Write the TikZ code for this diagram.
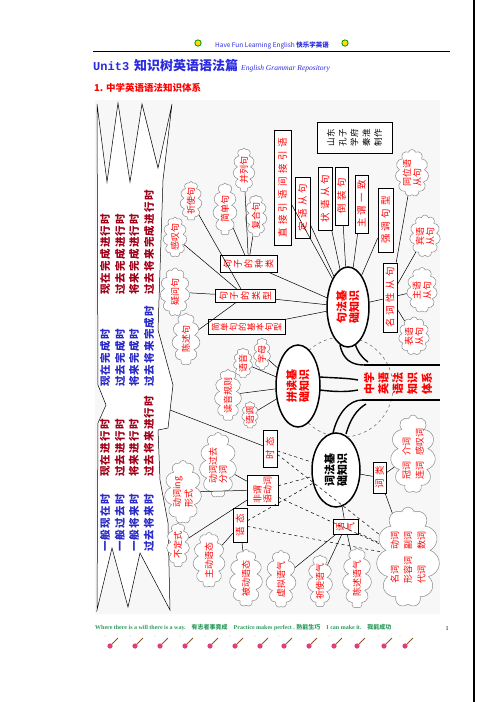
\documentclass[tikz,border=0pt]{standalone}
\usepackage{fontspec}
\usepackage{graphicx}
\setmainfont{Liberation Serif}
\newfontfamily\cjk{Noto Sans CJK SC}
\newfontfamily\cjksp{Noto Sans CJK SC}[LetterSpace=35]
\newfontfamily\cjkt{Noto Sans CJK SC}[LetterSpace=12]
\newfontfamily\monob{Liberation Mono}
\usetikzlibrary{shapes.geometric,shapes.symbols,calc}
\definecolor{ink}   {HTML}{000000}
\definecolor{hot}   {HTML}{FF0000}
\definecolor{maroon}{HTML}{A00018}
\definecolor{tblue} {HTML}{2A2AC8}
\definecolor{hblue} {HTML}{2A2AE0}
\definecolor{leaf}  {HTML}{2E9B5E}
\definecolor{puff}  {HTML}{8A8A8A}
\definecolor{pinkg} {HTML}{E0407A}
% text turned a quarter left, as the scanned page shows it
\newcommand{\rotx}[1]{\rotatebox{90}{#1}}
% each character turned on its own, set in a row
\newdimen\chgap \chgap=1.5pt
\newcommand{\chs}[1]{\chsA#1\relax}
\def\chsA#1{\ifx#1\relax\else\rotatebox{90}{#1}\hspace{\chgap}\expandafter\chsA\fi}
\tikzset{
  every node/.style={font=\cjk},
  % --- nodes
  box/.style  = {draw=ink, fill=white, line width=0.6pt, inner sep=1pt, text=hot,
                 font=\cjksp\fontsize{9.5}{11}\selectfont},
  stk/.style  = {box, font=\cjk\fontsize{9}{11}\selectfont},
  cl/.style   = {cloud, cloud puffs=11, cloud ignores aspect, draw=puff, fill=white,
                 line width=0.5pt, inner sep=0pt, text=hot,
                 font=\cjk\fontsize{9}{11}\selectfont},
  hub/.style  = {ellipse, draw=ink, line width=1.5pt, fill=white, inner sep=0pt, text=hot,
                 font=\cjk\bfseries\fontsize{11}{13}\selectfont},
  tense/.style= {anchor=south, inner sep=0pt,
                 font=\cjkt\bfseries\fontsize{10.5}{12}\selectfont},
  % --- edges
  e/.style    = {draw=ink, line width=0.5pt},
  ed/.style   = {e, dashed},
  trunk/.style= {draw=ink, line width=1.4pt},
}
\begin{document}
\begin{tikzpicture}[x=1pt,y=-1pt]
  \useasboundingbox (0,0) rectangle (496,702);
  \fill[white] (0,0) rectangle (496,702);
  \draw[line width=2pt] (474,0) -- (474,702);

  % header
  \node[text=hblue, font=\cjk\fontsize{6.5}{7}\selectfont] (hd) at (272,45)
    {Have Fun Learning English \textbf{快乐学英语}};
  \foreach \x in {198,345} {
    \fill[green!60!black] (\x,43) circle (3.6);
    \fill[yellow!80!orange] (\x,43) circle (2.6);
  }
  \draw[line width=0.6pt] (93,51) -- (450,51);
  \node[anchor=west, inner sep=0pt, text=hblue] (ttl) at (93,66)
    {{\monob\bfseries\fontsize{12}{14}\selectfont Unit3}\hspace{5pt}{\cjk\bfseries\fontsize{13}{15}\selectfont 知识树英语语法篇}\hspace{3pt}{\rmfamily\itshape\fontsize{7.5}{8}\selectfont English Grammar Repository}};
  \node[anchor=west, inner sep=0pt, text=hot, font=\cjk\bfseries\fontsize{9.5}{11}\selectfont] (sub) at (94,88)
    {1. 中学英语语法知识体系};

  % diagram area
  \fill[black!3] (95,100) rectangle (440,614);

  % left tense banner
  \draw[e, fill=white] (97,104) -- (107,182) -- (118,103) -- (130,182) -- (142,104)
    -- (158,168) -- (172,104) -- (163,180) -- (158,330) -- (173,385) -- (168,428)
    -- (158,430) -- (160,480) -- (168,523) -- (170,610) -- (140,553) -- (128,607)
    -- (112,548) -- (97,610) -- (98,423) -- (106,405) -- (98,385) -- cycle;
  \coordinate (ls) at (170,410);
  \node[tense, text=maroon] (t1) at (105,295) {\rotx{现在完成进行时}};
  \node[tense, text=maroon] (t2) at (120,295) {\rotx{过去完成进行时}};
  \node[tense, text=maroon] (t3) at (134,295) {\rotx{将来完成进行时}};
  \node[tense, text=maroon] (t4) at (149,295) {\rotx{过去将来完成进行时}};
  \node[tense, text=tblue]  (t5) at (105,387) {\rotx{现在完成时}};
  \node[tense, text=tblue]  (t6) at (120,387) {\rotx{过去完成时}};
  \node[tense, text=tblue]  (t7) at (134,387) {\rotx{将来完成时}};
  \node[tense, text=tblue]  (t8) at (149,387) {\rotx{过去将来完成时}};
  \node[tense, text=maroon] (t9) at (105,477) {\rotx{现在进行时}};
  \node[tense, text=maroon] (t10) at (120,477) {\rotx{过去进行时}};
  \node[tense, text=maroon] (t11) at (134,477) {\rotx{将来进行时}};
  \node[tense, text=maroon] (t12) at (149,477) {\rotx{过去将来进行时}};
  \node[tense, text=tblue]  (t13) at (105,552) {\rotx{一般现在时}};
  \node[tense, text=tblue]  (t14) at (120,552) {\rotx{一般过去时}};
  \node[tense, text=tblue]  (t15) at (134,552) {\rotx{一般将来时}};
  \node[tense, text=tblue]  (t16) at (149,552) {\rotx{过去将来时}};

  % dashed ring and trunk
  \draw[ed, draw=black!60] (343,387) circle (50);
  \draw[trunk] (364,365) -- (440,365);
  \draw[trunk] (362,400) -- (440,400);
  \draw[trunk] (340,345) .. controls (343,360) and (352,365) .. (364,365);
  \draw[trunk] (355,344) .. controls (358,352) and (362,358) .. (368,362);
  \draw[trunk] (320,377) .. controls (335,378) and (348,378) .. (358,380);
  \draw[trunk] (320,390) .. controls (335,392) and (348,392) .. (358,390);
  \draw[trunk] (333,433) .. controls (338,412) and (350,400) .. (362,400);
  \draw[trunk] (346,434) .. controls (350,420) and (356,410) .. (366,404);
  \node[text=hot, inner sep=0pt, font=\cjk\bfseries\fontsize{11}{13}\selectfont] (root) at (398,383)
    {\rotx{中学}\hspace{4pt}\rotx{英语}\hspace{4pt}\rotx{语法}\hspace{4pt}\rotx{知识}\hspace{4pt}\rotx{体系}};

  % hubs
  \node[hub, minimum width=42, minimum height=80] (jf) at (348,307) {\rotx{句法基}\hspace{2pt}\rotx{础知识}};
  \node[hub, minimum width=44, minimum height=82] (pd) at (298,386) {\rotx{拼读基}\hspace{2pt}\rotx{础知识}};
  \node[hub, minimum width=48, minimum height=74, text=ink] (cf) at (336,470) {\rotx{词法基}\hspace{2pt}\rotx{础知识}};

  % syntax side
  \node[box, minimum width=17, minimum height=115] (zj) at (282.5,188) {\rotx{直接引语间接引语}};
  \node[box, minimum width=15, minimum height=61] (dy) at (302.5,207.5) {\rotx{定语从句}};
  \node[box, minimum width=14, minimum height=63] (zy) at (325,198.5) {\rotx{状语从句}};
  \node[box, minimum width=13, minimum height=58] (dz) at (341.5,196) {\rotx{倒装句}};
  \node[box, minimum width=13, minimum height=58] (zw) at (361.5,204) {\rotx{主谓一致}};
  \node[box, minimum width=15, minimum height=64] (qd) at (385.5,220) {\rotx{强调句型}};
  \node[box, minimum width=14, minimum height=69] (mc) at (390,297.5) {\rotx{名词性从句}};
  \node[stk, minimum width=57, minimum height=17] (zl) at (248.5,263.5) {\chgap=2.4pt\chs{句子的种类}};
  \node[stk, minimum width=60, minimum height=13] (lx) at (245,296) {\chgap=2.8pt\chs{句子的类型}};
  \node[stk, minimum width=77, minimum height=15, font=\cjk\fontsize{8.5}{9.6}\selectfont] (jd) at (246.5,327)
    {\chgap=1.1pt\chs{简单句的基本句型}};
  \node[draw=ink, fill=white, line width=0.6pt, inner sep=2pt, minimum width=75, minimum height=31,
        font=\cjk\fontsize{8.5}{10}\selectfont] (sd) at (354.5,137.5)
    {\rotx{山东}\hspace{4pt}\rotx{孔子}\hspace{4pt}\rotx{学府}\hspace{4pt}\rotx{秦淮}\hspace{4pt}\rotx{制作}};

  \node[cl, minimum width=22, minimum height=32] (qs) at (191,201) {\rotx{祈使句}};
  \node[cl, minimum width=24, minimum height=40] (gt) at (175,237) {\rotx{感叹句}};
  \node[cl, minimum width=30, minimum height=48] (yw) at (175,292) {\rotx{疑问句}};
  \node[cl, minimum width=28, minimum height=52] (cs) at (186,339) {\rotx{陈述句}};
  \node[cl, minimum width=24, minimum height=52] (jdj) at (225,209) {\rotx{简单句}};
  \node[cl, minimum width=22, minimum height=44] (bl) at (244,170) {\rotx{并列句}};
  \node[cl, minimum width=22, minimum height=42] (fh) at (256,216) {\rotx{复合句}};
  \node[cl, minimum width=27, minimum height=47] (tw) at (412,173) {\rotx{同位语}\hspace{2pt}\rotx{从句}};
  \node[cl, minimum width=26, minimum height=42] (by) at (425,236) {\rotx{宾语}\hspace{2pt}\rotx{从句}};
  \node[cl, minimum width=25, minimum height=45] (zyc) at (422,290) {\rotx{主语}\hspace{2pt}\rotx{从句}};
  \node[cl, minimum width=25, minimum height=38] (bzy) at (414,336) {\rotx{表语}\hspace{2pt}\rotx{从句}};

  % reading side
  \node[cl, minimum width=17, minimum height=32] (zm) at (262,354) {\rotx{字母}};
  \node[cl, minimum width=19, minimum height=30] (yy) at (243,363) {\rotx{语音}};
  \node[cl, minimum width=27, minimum height=45] (dg) at (228,395) {\rotx{读音规则}};
  \node[cl, minimum width=16, minimum height=26] (ydi) at (250,415) {\rotx{语调}};

  % word side
  \node[box, minimum width=14, minimum height=37] (st) at (270,448.5) {\rotx{时态}};
  \node[box, minimum width=14, minimum height=34] (yt) at (240,525) {\rotx{语态}};
  \node[box, minimum width=13, minimum height=31] (ct) at (379.5,477.5) {\rotx{词类}};
  \node[stk, minimum width=25, minimum height=15] (yq) at (345.5,526.5) {\chgap=2pt\chs{语气}};
  \node[stk, minimum width=31, minimum height=30] (fw) at (262.5,490)
    {\rotx{非谓}\hspace{2pt}\rotx{语动词}};
  \node[cl, minimum width=37, minimum height=65] (gf) at (218,465) {\rotx{动词过去}\hspace{2pt}\rotx{分词}};
  \node[cl, minimum width=37, minimum height=63] (ing) at (183,492) {\rotx{动词ing}\hspace{2pt}\rotx{形式}};
  \node[cl, minimum width=23, minimum height=44] (bd) at (178,545) {\rotx{不定式}};
  \node[cl, minimum width=32, minimum height=55] (zd) at (209,560) {\rotx{主动语态}};
  \node[cl, minimum width=33, minimum height=57] (bd2) at (246,578) {\rotx{被动语态}};
  \node[cl, minimum width=30, minimum height=57] (xn) at (281,579) {\rotx{虚拟语气}};
  \node[cl, minimum width=25, minimum height=52] (qsy) at (320,581) {\rotx{祈使语气}};
  \node[cl, minimum width=29, minimum height=60] (csy) at (357,578) {\rotx{陈述语气}};
  \node[cl, minimum width=45, minimum height=78] (gj) at (413,454)
    {\rotx{\makebox[24pt][l]{冠词}介词}\hspace{5pt}\rotx{\makebox[24pt][l]{连词}感叹词}};
  \node[cl, minimum width=57, minimum height=100] (big) at (408,557)
    {\rotx{\makebox[34pt][l]{名词}动词}\hspace{5pt}\rotx{\makebox[34pt][l]{形容词}副词}\hspace{5pt}\rotx{\makebox[34pt][l]{代词}数词}};

  % connectors
  \foreach \n in {zl,lx,jd,zj,dy,zy,dz,zw,qd,mc} \draw[e] (jf) -- (\n);
  \foreach \n in {tw,by,zyc,bzy} \draw[e] (mc) -- (\n);
  \foreach \n in {jdj,bl,fh} \draw[e] (zl) -- (\n);
  \foreach \n in {qs,gt,yw,cs} \draw[e] (lx) -- (\n);
  \foreach \n in {zm,yy,dg,ydi} \draw[e] (pd) -- (\n);
  \foreach \n in {gf,ing,bd} \draw[e] (fw) -- (\n);
  \foreach \n in {zd,bd2} \draw[e] (yt) -- (\n);
  \foreach \n in {xn,qsy,csy} \draw[e] (yq) -- (\n);
  \foreach \n in {gj,big} \draw[e] (ct) -- (\n);
  \draw[e] (cf) -- (ct); \draw[e] (cf) -- (yq);
  \draw[e] (ls) -- (st);
  \draw[ed] (st) -- (cf); \draw[ed] (fw) -- (cf); \draw[ed] (yt) -- (cf);
  \foreach \n in {st,fw,yt,yq} \draw[ed] (\n) -- (big);

  % footer
  \node[anchor=west, inner sep=0pt, text=leaf, font=\bfseries\fontsize{6}{7}\selectfont] (ft) at (95,628)
    {Where there is a will there is a way.\quad{\cjk 有志者事竟成}\quad Practice makes perfect .\ {\cjk 熟能生巧}\quad I can make it.\quad{\cjk 我能成功}};
  \node[font=\fontsize{6}{7}\selectfont] (pg) at (447,629) {1};
  \foreach \x in {113,138,163,188,213,238,263,287,312,337,360,387,408} {
    \draw[brown!70!black, line width=0.8pt] (\x-2,645) -- (\x+5,638);
    \fill[pinkg] (\x-3,646) circle (2.6);
    \fill[pink] (\x-8,636) circle (0.7);
  }
\end{tikzpicture}
\end{document}
